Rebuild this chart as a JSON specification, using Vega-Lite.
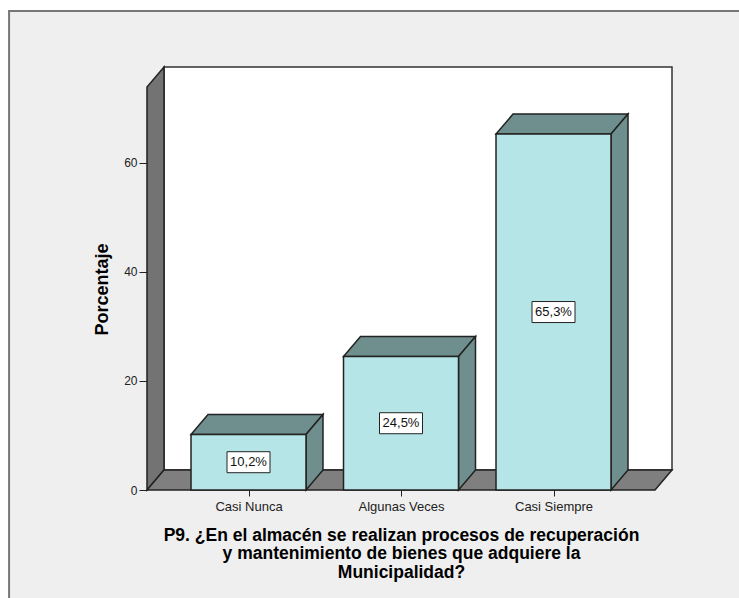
{
  "$schema": "https://vega.github.io/schema/vega-lite/v6.json",
  "width": 525,
  "height": 423,
  "autosize": "none",
  "padding": {"left": 147, "top": 67, "right": 67, "bottom": 108},
  "background": "#ffffff",
  "params": [
    {"name": "profX", "value": 0.1115},
    {"name": "profY", "value": 3.67},
    {"name": "mediaBarra", "value": 0.377},
    {"name": "x0", "value": 0.3344},
    {"name": "x1", "value": 3.777},
    {"name": "techo", "value": 73.94}
  ],
  "config": {"view": {"stroke": null}, "font": "Liberation Sans"},
  "datasets": {
    "respuestas": [
      {"categoria": "Casi Nunca", "porcentaje": 10.2},
      {"categoria": "Algunas Veces", "porcentaje": 24.5},
      {"categoria": "Casi Siempre", "porcentaje": 65.3}
    ],
    "escena": [{"pieza": "caja"}]
  },
  "layer": [
    {
      "description": "Panel gris del visor",
      "data": {"name": "escena"},
      "mark": {"type": "rect", "fill": "#efefef", "stroke": "#777777", "strokeWidth": 2},
      "encoding": {
        "x": {
          "datum": -0.57,
          "type": "quantitative",
          "scale": {"domain": [0.3344, 3.777], "nice": false, "zero": false},
          "axis": {
            "values": [1, 2, 3],
            "labelExpr": "['', 'Casi Nunca', 'Algunas Veces', 'Casi Siempre'][datum.value]",
            "domain": false,
            "grid": false,
            "zindex": 1,
            "tickColor": "#222222",
            "tickSize": 6,
            "labelColor": "#222222",
            "labelFontSize": 13,
            "labelPadding": 4,
            "labelFlush": false,
            "labelOverlap": false,
            "title": [
              "P9. ¿En el almacén se realizan procesos de recuperación",
              "y mantenimiento de bienes que adquiere la",
              "Municipalidad?"
            ],
            "titleFontSize": 17.5,
            "titleFontWeight": "bold",
            "titleColor": "#000000",
            "titleLineHeight": 18.5,
            "titleX": 254,
            "titleY": 36,
            "titleBaseline": "top",
            "titleAnchor": "middle"
          }
        },
        "x2": {"datum": 4.3},
        "y": {
          "datum": 87.9,
          "type": "quantitative",
          "scale": {"domain": [0, 77.61], "nice": false, "zero": false},
          "axis": {
            "values": [0, 20, 40, 60],
            "domain": false,
            "grid": false,
            "zindex": 1,
            "tickColor": "#222222",
            "tickSize": 8,
            "labelColor": "#222222",
            "labelFontSize": 12,
            "labelPadding": 2,
            "title": "Porcentaje",
            "titleFontSize": 18,
            "titleFontWeight": "bold",
            "titleColor": "#000000",
            "titleX": -36,
            "titleY": 222,
            "titleAnchor": "middle"
          }
        },
        "y2": {"datum": -22}
      }
    },
    {
      "description": "Pared del fondo",
      "data": {"name": "escena"},
      "mark": {"type": "rect", "fill": "#ffffff", "stroke": "#333333", "strokeWidth": 1.5},
      "encoding": {
        "x": {"datum": 0.4459, "type": "quantitative"},
        "x2": {"datum": 3.777},
        "y": {"datum": 3.67, "type": "quantitative"},
        "y2": {"datum": 77.61}
      }
    },
    {
      "description": "Pared izquierda",
      "data": {"name": "escena"},
      "transform": [
        {"calculate": "[{i: 0, a: x0, b: 0}, {i: 1, a: x0 + profX, b: profY}, {i: 2, a: x0 + profX, b: techo + profY}, {i: 3, a: x0, b: techo}]", "as": "v"},
        {"flatten": ["v"]},
        {"calculate": "datum.v.a", "as": "px"},
        {"calculate": "datum.v.b", "as": "py"},
        {"calculate": "datum.v.i", "as": "pi"}
      ],
      "mark": {"type": "line", "interpolate": "linear-closed", "fill": "#737373", "stroke": "#222222", "strokeWidth": 1.5},
      "encoding": {
        "x": {"field": "px", "type": "quantitative"},
        "y": {"field": "py", "type": "quantitative"},
        "order": {"field": "pi"}
      }
    },
    {
      "description": "Suelo",
      "data": {"name": "escena"},
      "transform": [
        {"calculate": "[{i: 0, a: x0, b: 0}, {i: 1, a: x1 - profX, b: 0}, {i: 2, a: x1, b: profY}, {i: 3, a: x0 + profX, b: profY}]", "as": "v"},
        {"flatten": ["v"]},
        {"calculate": "datum.v.a", "as": "px"},
        {"calculate": "datum.v.b", "as": "py"},
        {"calculate": "datum.v.i", "as": "pi"}
      ],
      "mark": {"type": "line", "interpolate": "linear-closed", "fill": "#7f7f7f", "stroke": "#222222", "strokeWidth": 1.5},
      "encoding": {
        "x": {"field": "px", "type": "quantitative"},
        "y": {"field": "py", "type": "quantitative"},
        "order": {"field": "pi"}
      }
    },
    {
      "description": "Cara superior de cada barra",
      "data": {"name": "respuestas"},
      "transform": [
        {"calculate": "indexof(['Casi Nunca', 'Algunas Veces', 'Casi Siempre'], datum.categoria) + 1", "as": "c"},
        {"calculate": "[{i: 0, a: datum.c - mediaBarra, b: datum.porcentaje}, {i: 1, a: datum.c + mediaBarra, b: datum.porcentaje}, {i: 2, a: datum.c + mediaBarra + profX, b: datum.porcentaje + profY}, {i: 3, a: datum.c - mediaBarra + profX, b: datum.porcentaje + profY}]", "as": "v"},
        {"flatten": ["v"]},
        {"calculate": "datum.v.a", "as": "px"},
        {"calculate": "datum.v.b", "as": "py"},
        {"calculate": "datum.v.i", "as": "pi"}
      ],
      "mark": {"type": "line", "interpolate": "linear-closed", "fill": "#6f8f8f", "stroke": "#222222", "strokeWidth": 1.5},
      "encoding": {
        "x": {"field": "px", "type": "quantitative"},
        "y": {"field": "py", "type": "quantitative"},
        "detail": {"field": "categoria"},
        "order": {"field": "pi"}
      }
    },
    {
      "description": "Cara lateral de cada barra",
      "data": {"name": "respuestas"},
      "transform": [
        {"calculate": "indexof(['Casi Nunca', 'Algunas Veces', 'Casi Siempre'], datum.categoria) + 1", "as": "c"},
        {"calculate": "[{i: 0, a: datum.c + mediaBarra, b: 0}, {i: 1, a: datum.c + mediaBarra + profX, b: profY}, {i: 2, a: datum.c + mediaBarra + profX, b: datum.porcentaje + profY}, {i: 3, a: datum.c + mediaBarra, b: datum.porcentaje}]", "as": "v"},
        {"flatten": ["v"]},
        {"calculate": "datum.v.a", "as": "px"},
        {"calculate": "datum.v.b", "as": "py"},
        {"calculate": "datum.v.i", "as": "pi"}
      ],
      "mark": {"type": "line", "interpolate": "linear-closed", "fill": "#6f8f8f", "stroke": "#222222", "strokeWidth": 1.5},
      "encoding": {
        "x": {"field": "px", "type": "quantitative"},
        "y": {"field": "py", "type": "quantitative"},
        "detail": {"field": "categoria"},
        "order": {"field": "pi"}
      }
    },
    {
      "description": "Cara frontal de cada barra",
      "data": {"name": "respuestas"},
      "transform": [
        {"calculate": "indexof(['Casi Nunca', 'Algunas Veces', 'Casi Siempre'], datum.categoria) + 1", "as": "c"},
        {"calculate": "datum.c - mediaBarra", "as": "izq"},
        {"calculate": "datum.c + mediaBarra", "as": "der"}
      ],
      "mark": {"type": "rect", "fill": "#b5e5e7", "stroke": "#222222", "strokeWidth": 1.5},
      "encoding": {
        "x": {"field": "izq", "type": "quantitative"},
        "x2": {"field": "der"},
        "y": {"field": "porcentaje", "type": "quantitative"},
        "y2": {"datum": 0}
      }
    },
    {
      "description": "Recuadro de cada etiqueta",
      "data": {"name": "respuestas"},
      "transform": [
        {"calculate": "indexof(['Casi Nunca', 'Algunas Veces', 'Casi Siempre'], datum.categoria) + 1", "as": "c"},
        {"calculate": "datum.porcentaje / 2", "as": "medio"}
      ],
      "mark": {"type": "rect", "width": 43, "height": 21, "fill": "#ffffff", "stroke": "#222222", "strokeWidth": 1},
      "encoding": {
        "x": {"field": "c", "type": "quantitative"},
        "y": {"field": "medio", "type": "quantitative"}
      }
    },
    {
      "description": "Porcentaje de cada barra",
      "data": {"name": "respuestas"},
      "transform": [
        {"calculate": "indexof(['Casi Nunca', 'Algunas Veces', 'Casi Siempre'], datum.categoria) + 1", "as": "c"},
        {"calculate": "datum.porcentaje / 2", "as": "medio"},
        {"calculate": "replace(format(datum.porcentaje, '.1f'), '.', ',') + '%'", "as": "etiqueta"}
      ],
      "mark": {"type": "text", "fontSize": 13, "color": "#111111", "align": "center", "baseline": "middle"},
      "encoding": {
        "x": {"field": "c", "type": "quantitative"},
        "y": {"field": "medio", "type": "quantitative"},
        "text": {"field": "etiqueta"}
      }
    }
  ]
}
